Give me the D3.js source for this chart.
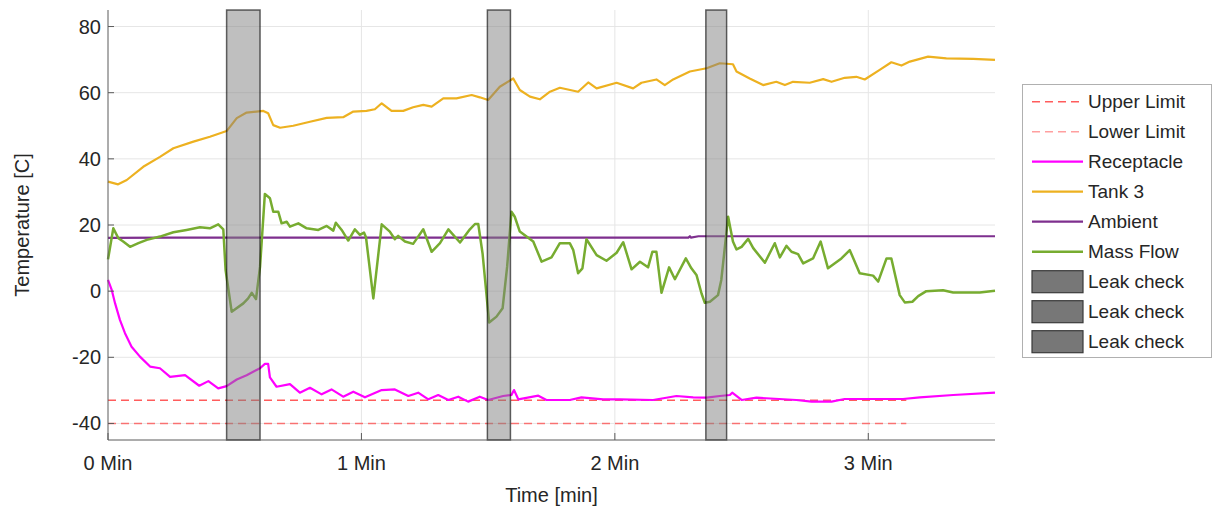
<!DOCTYPE html>
<html>
<head>
<meta charset="utf-8">
<script src="https://cdn.jsdelivr.net/npm/d3@7"></script>
<style>
  body { margin: 0; background: #fff; }
  svg { display: block; font-family: "Liberation Sans", Arial, sans-serif; }
</style>
</head>
<body>
<div id="main"></div>
<script>
// time in minutes, values in C
const tankTime = [0, 0.04, 0.074, 0.139, 0.205, 0.258, 0.337, 0.402, 0.468, 0.508, 0.547, 0.613, 0.632, 0.652, 0.679, 0.731, 0.797, 0.863, 0.928, 0.968, 1.02, 1.053, 1.08, 1.119, 1.165, 1.204, 1.244, 1.277, 1.323, 1.375, 1.435, 1.467, 1.5, 1.546, 1.599, 1.625, 1.665, 1.704, 1.744, 1.783, 1.855, 1.895, 1.928, 2.007, 2.072, 2.105, 2.164, 2.197, 2.23, 2.296, 2.362, 2.414, 2.466, 2.48, 2.532, 2.585, 2.637, 2.671, 2.703, 2.769, 2.822, 2.855, 2.907, 2.953, 2.986, 3.045, 3.091, 3.131, 3.164, 3.236, 3.308, 3.414, 3.5];
const tankTemp = [33.1, 32.3, 33.6, 37.6, 40.6, 43.2, 45.2, 46.7, 48.4, 52.3, 54.0, 54.5, 53.8, 50.2, 49.4, 50.0, 51.2, 52.4, 52.6, 54.3, 54.5, 55.0, 56.8, 54.5, 54.5, 55.6, 56.3, 55.8, 58.3, 58.3, 59.3, 58.6, 57.8, 61.8, 64.3, 60.8, 58.8, 58.0, 60.3, 61.5, 60.3, 63.1, 61.3, 63.0, 61.3, 63.0, 64.0, 62.3, 64.0, 66.4, 67.4, 68.9, 68.6, 66.4, 64.3, 62.3, 63.3, 62.3, 63.3, 63.0, 64.1, 63.3, 64.5, 64.8, 64.0, 66.9, 69.2, 68.2, 69.4, 70.9, 70.4, 70.2, 69.9];

const flowTime = [0, 0.021, 0.041, 0.06, 0.087, 0.12, 0.153, 0.205, 0.258, 0.31, 0.363, 0.402, 0.435, 0.455, 0.464, 0.488, 0.534, 0.553, 0.567, 0.584, 0.6, 0.619, 0.639, 0.652, 0.672, 0.685, 0.705, 0.718, 0.751, 0.784, 0.83, 0.863, 0.889, 0.899, 0.922, 0.948, 0.974, 0.994, 1.01, 1.018, 1.047, 1.08, 1.112, 1.132, 1.145, 1.172, 1.204, 1.244, 1.277, 1.31, 1.343, 1.389, 1.428, 1.448, 1.461, 1.478, 1.504, 1.533, 1.557, 1.575, 1.592, 1.605, 1.625, 1.678, 1.711, 1.75, 1.783, 1.822, 1.836, 1.855, 1.872, 1.888, 1.928, 1.967, 2.007, 2.033, 2.066, 2.099, 2.131, 2.148, 2.164, 2.184, 2.214, 2.237, 2.28, 2.302, 2.322, 2.342, 2.355, 2.375, 2.407, 2.42, 2.447, 2.466, 2.48, 2.5, 2.526, 2.546, 2.592, 2.631, 2.651, 2.677, 2.697, 2.723, 2.743, 2.782, 2.812, 2.841, 2.894, 2.927, 2.966, 3.019, 3.039, 3.072, 3.091, 3.124, 3.144, 3.174, 3.197, 3.229, 3.295, 3.335, 3.44, 3.5];
const flowValue = [9.6, 19.0, 16.0, 15.0, 13.4, 14.5, 15.5, 16.5, 17.8, 18.5, 19.3, 19.0, 20.2, 18.7, 6.4, -6.2, -3.7, -2.2, -0.5, -2.4, 7.4, 29.4, 28.1, 24.0, 24.0, 20.5, 21.0, 19.5, 20.5, 19.0, 18.5, 19.7, 18.3, 20.7, 18.5, 15.3, 18.7, 17.0, 17.7, 16.3, -2.2, 20.2, 18.0, 15.7, 16.7, 15.0, 14.3, 18.7, 11.9, 14.5, 18.7, 14.7, 18.7, 20.3, 20.3, 11.4, -9.5, -7.7, -5.2, 7.4, 24.0, 22.5, 18.0, 15.0, 8.9, 10.2, 14.5, 14.5, 12.4, 5.4, 6.9, 15.7, 10.9, 9.2, 11.6, 14.8, 6.6, 8.9, 7.2, 11.9, 11.9, -0.5, 7.2, 3.6, 9.9, 6.9, 4.9, -0.7, -3.5, -3.2, -1.2, 3.4, 22.5, 15.0, 12.6, 13.4, 15.8, 13.0, 8.6, 14.5, 10.2, 13.7, 11.9, 11.2, 8.4, 9.9, 15.0, 6.9, 9.9, 12.4, 5.4, 4.7, 2.9, 9.9, 9.9, -1.2, -3.4, -3.2, -1.5, 0.0, 0.3, -0.4, -0.4, 0.1];

const receptacleTime = [0, 0.015, 0.028, 0.047, 0.067, 0.093, 0.126, 0.166, 0.205, 0.245, 0.304, 0.36, 0.396, 0.435, 0.468, 0.508, 0.547, 0.6, 0.619, 0.632, 0.639, 0.665, 0.718, 0.757, 0.797, 0.843, 0.882, 0.928, 0.968, 1.014, 1.08, 1.132, 1.185, 1.224, 1.264, 1.303, 1.343, 1.382, 1.421, 1.467, 1.5, 1.559, 1.592, 1.602, 1.619, 1.698, 1.73, 1.822, 1.868, 1.954, 2.02, 2.151, 2.243, 2.309, 2.362, 2.414, 2.454, 2.463, 2.5, 2.559, 2.716, 2.776, 2.855, 2.907, 3.006, 3.137, 3.203, 3.335, 3.5];
const receptacleTemp = [3.4, 0.3, -3.7, -8.7, -12.7, -16.8, -19.8, -22.8, -23.3, -25.9, -25.4, -28.6, -27.2, -29.4, -28.7, -26.7, -25.4, -23.3, -22.0, -22.0, -26.1, -28.9, -28.1, -30.7, -29.2, -31.2, -29.7, -31.9, -30.4, -32.1, -29.9, -29.7, -31.7, -30.7, -32.7, -31.4, -32.9, -31.9, -33.4, -31.9, -32.9, -31.7, -31.4, -29.9, -32.7, -31.6, -32.9, -32.9, -32.1, -32.7, -32.7, -32.9, -31.7, -32.1, -32.2, -31.7, -31.4, -30.7, -32.9, -32.2, -32.9, -33.4, -33.4, -32.6, -32.6, -32.6, -32.1, -31.4, -30.7];

const ambientTime = [0, 0.25, 2.29, 2.296, 2.3, 2.33, 3.5];
const ambientTemp = [16.1, 16.2, 16.2, 16.6, 16.2, 16.6, 16.6];

const limitTime = [0, 3.15];
const upperLimit = [-33, -33];
const lowerLimit = [-40, -40];

// leak check windows [start, end] in minutes
const leakStart = [0.468, 1.497, 2.359];
const leakEnd = [0.600, 1.588, 2.441];

const xTicks = [0, 1, 2, 3];
const xTickLabels = ["0 Min", "1 Min", "2 Min", "3 Min"];
const yTicks = [-40, -20, 0, 20, 40, 60, 80];

const legendNames = ["Upper Limit", "Lower Limit", "Receptacle", "Tank 3", "Ambient", "Mass Flow", "Leak check", "Leak check", "Leak check"];

const width = 1220, height = 512;
const plot = { left: 108, right: 995, top: 10, bottom: 440 };
const textColor = "#262626";

const x = d3.scaleLinear().domain([0, 3.5]).range([plot.left, plot.right]);
const y = d3.scaleLinear().domain([-45, 85]).range([plot.bottom, plot.top]);

const svg = d3.select("#main")
  .append("svg")
  .attr("width", width)
  .attr("height", height);

// grid
svg.append("g")
  .selectAll("line")
  .data(yTicks)
  .join("line")
  .attr("x1", plot.left).attr("x2", plot.right)
  .attr("y1", d => y(d)).attr("y2", d => y(d))
  .attr("stroke", "#e6e6e6")
  .attr("stroke-width", 1);

svg.append("g")
  .selectAll("line")
  .data(xTicks.slice(1))
  .join("line")
  .attr("x1", d => x(d)).attr("x2", d => x(d))
  .attr("y1", plot.top).attr("y2", plot.bottom)
  .attr("stroke", "#e6e6e6")
  .attr("stroke-width", 1);

function zip(ts, vs) {
  return ts.map((t, i) => [t, vs[i]]);
}

const line = d3.line()
  .x(d => x(d[0]))
  .y(d => y(d[1]));

const series = [
  { data: zip(limitTime, upperLimit), color: "#ff4040", width: 1.5, dash: "8,5", opacity: 0.85 },
  { data: zip(limitTime, lowerLimit), color: "#ff4040", width: 1.5, dash: "8,5", opacity: 0.7 },
  { data: zip(receptacleTime, receptacleTemp), color: "#ff00ff", width: 2.2, dash: null, opacity: 1 },
  { data: zip(tankTime, tankTemp), color: "#edb120", width: 2.2, dash: null, opacity: 1 },
  { data: zip(ambientTime, ambientTemp), color: "#7e2f8e", width: 2.2, dash: null, opacity: 1 },
  { data: zip(flowTime, flowValue), color: "#77ac30", width: 2.5, dash: null, opacity: 1 }
];

svg.append("g")
  .selectAll("path")
  .data(series)
  .join("path")
  .attr("d", d => line(d.data))
  .attr("fill", "none")
  .attr("stroke", d => d.color)
  .attr("stroke-width", d => d.width)
  .attr("stroke-dasharray", d => d.dash)
  .attr("stroke-opacity", d => d.opacity)
  .attr("stroke-linejoin", "round");

// leak check patches
svg.append("g")
  .selectAll("rect")
  .data(leakStart.map((s, i) => [s, leakEnd[i]]))
  .join("rect")
  .attr("x", d => x(d[0]))
  .attr("width", d => x(d[1]) - x(d[0]))
  .attr("y", y(85))
  .attr("height", y(-45) - y(85))
  .attr("fill", "#808080")
  .attr("fill-opacity", 0.5)
  .attr("stroke", "#000")
  .attr("stroke-opacity", 0.6)
  .attr("stroke-width", 1.5);

// axes
const axisColor = "#5a5a5a";
svg.append("line")
  .attr("x1", plot.left).attr("x2", plot.left)
  .attr("y1", plot.top).attr("y2", plot.bottom)
  .attr("stroke", axisColor);
svg.append("line")
  .attr("x1", plot.left).attr("x2", plot.right)
  .attr("y1", plot.bottom).attr("y2", plot.bottom)
  .attr("stroke", axisColor);

const yAxis = svg.append("g");
yAxis.selectAll("line")
  .data(yTicks)
  .join("line")
  .attr("x1", plot.left).attr("x2", plot.left + 6)
  .attr("y1", d => y(d)).attr("y2", d => y(d))
  .attr("stroke", axisColor);
yAxis.selectAll("text")
  .data(yTicks)
  .join("text")
  .attr("x", plot.left - 7)
  .attr("y", d => y(d))
  .attr("dy", "0.35em")
  .attr("text-anchor", "end")
  .attr("font-size", "20px")
  .attr("fill", textColor)
  .text(d => d);

const xAxis = svg.append("g");
xAxis.selectAll("line")
  .data(xTicks)
  .join("line")
  .attr("x1", d => x(d)).attr("x2", d => x(d))
  .attr("y1", plot.bottom).attr("y2", plot.bottom - 7)
  .attr("stroke", axisColor);
xAxis.selectAll("text")
  .data(xTicks)
  .join("text")
  .attr("x", d => x(d))
  .attr("y", 470)
  .attr("text-anchor", "middle")
  .attr("font-size", "20px")
  .attr("fill", textColor)
  .text((d, i) => xTickLabels[i]);

svg.append("text")
  .attr("x", (plot.left + plot.right) / 2)
  .attr("y", 502)
  .attr("text-anchor", "middle")
  .attr("font-size", "20px")
  .attr("fill", textColor)
  .text("Time [min]");

svg.append("text")
  .attr("transform", `translate(29,${(plot.top + plot.bottom) / 2}) rotate(-90)`)
  .attr("text-anchor", "middle")
  .attr("font-size", "20px")
  .attr("fill", textColor)
  .text("Temperature [C]");

// legend
const legend = svg.append("g");
legend.append("rect")
  .attr("x", 1022.5).attr("y", 84.5)
  .attr("width", 189).attr("height", 273)
  .attr("fill", "#fff")
  .attr("stroke", "#b0b0b0");

const rowY = i => 101.7 + i * 30;

legend.selectAll("line")
  .data(series)
  .join("line")
  .attr("x1", 1032).attr("x2", 1083)
  .attr("y1", (d, i) => rowY(i)).attr("y2", (d, i) => rowY(i))
  .attr("stroke", d => d.color)
  .attr("stroke-width", d => d.width)
  .attr("stroke-dasharray", d => d.dash)
  .attr("stroke-opacity", (d, i) => i === 1 ? 0.5 : d.opacity);

legend.selectAll("rect.patch")
  .data(leakStart)
  .join("rect")
  .attr("class", "patch")
  .attr("x", 1032).attr("width", 51)
  .attr("y", (d, i) => rowY(6 + i) - 11).attr("height", 22)
  .attr("fill", "#777")
  .attr("stroke", "#3a3a3a")
  .attr("stroke-width", 1.2);

legend.selectAll("text")
  .data(legendNames)
  .join("text")
  .attr("x", 1088)
  .attr("y", (d, i) => rowY(i))
  .attr("dy", "0.35em")
  .attr("font-size", "19px")
  .attr("fill", textColor)
  .text(d => d);
</script>
</body>
</html>
